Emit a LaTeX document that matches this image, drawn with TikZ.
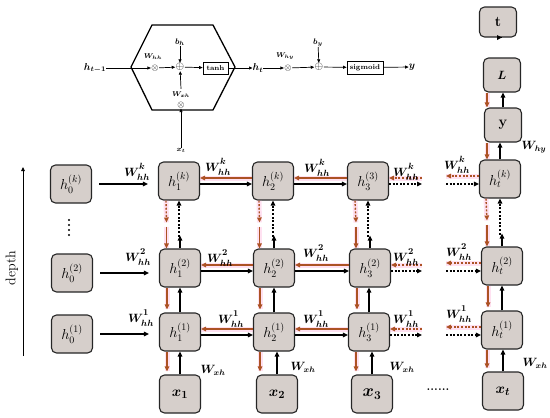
\documentclass[tikz,border=0pt]{standalone}
\usepackage{bm}
\usetikzlibrary{arrows.meta,calc}
\definecolor{boxfill}{RGB}{214,207,203}
\definecolor{rbr}{RGB}{172,82,36}
\definecolor{pinkg}{RGB}{255,170,215}
\newcommand{\Wlab}[1]{$\bm{W}^{\raisebox{2.5pt}{$\scriptstyle\bm{#1}$}}_{\raisebox{-1.5pt}{$\scriptstyle\bm{hh}$}}$}
\begin{document}
\begin{tikzpicture}[x=1pt,y=-1pt,
  box/.style={draw=black!85,line width=1.1pt,fill=boxfill,rounded corners=5pt,minimum width=41pt,minimum height=38pt,inner sep=0pt,font=\fontsize{14}{16}\selectfont},
  sbox/.style={box,minimum width=37pt,minimum height=32pt},
  blk/.style={-{Triangle[length=5pt,width=4.5pt]},line width=1.4pt,black},
  rd/.style={-{Triangle[length=5pt,width=4.5pt]},line width=1.4pt,rbr,preaction={draw,-,line width=5pt,pinkg,opacity=.35}},
  dts/.style={dash pattern=on 2pt off 1.6pt},
  wl/.style={font=\fontsize{13}{15}\selectfont,inner sep=0pt},
  wx/.style={font=\fontsize{12}{14}\selectfont,inner sep=0pt},
  thin/.style={-{Triangle[length=3.5pt,width=3pt]},line width=0.7pt,black},
  tl/.style={font=\fontsize{10}{12}\selectfont,inner sep=0pt},
  ts/.style={font=\fontsize{7}{8}\selectfont,inner sep=0pt},
  opn/.style={font=\fontsize{9}{10}\selectfont,inner sep=0.3pt},
  fbox/.style={draw,line width=0.8pt,inner sep=1.5pt,font=\fontsize{7}{8}\selectfont\bfseries}]
\useasboundingbox (0,0) rectangle (550,418);

% ---------------- top cell diagram ----------------
\draw[line width=1.3pt] (152,25) -- (213,25) -- (235,67) -- (213,110) -- (152,110) -- (131,67) -- cycle;
\node[tl] (htm1) at (95,68) {$\bm{h_{t-1}}$};
\node[opn] (m1) at (155,68) {$\otimes$};
\node[opn,font=\fontsize{11}{12}\selectfont] (p1) at (180,67) {$\oplus$};
\node[ts] (whh) at (153,57) {$\bm{W_{hh}}$};
\node[ts,font=\fontsize{8}{9}\selectfont] (bh) at (180,42) {$\bm{b_h}$};
\node[ts] (wxh) at (181,95) {$\bm{W_{xh}}$};
\node[opn] (m2) at (181,105) {$\otimes$};
\node[ts] (xtl) at (181,150) {$\bm{x_t}$};
\node[fbox,minimum width=25pt,minimum height=12pt] (tanh) at (215.5,68) {tanh};
\node[tl] (htl) at (258,68) {$\bm{h_t}$};
\node[opn] (m3) at (288,68) {$\otimes$};
\node[ts] (why) at (285,56) {$\bm{W_{hy}}$};
\node[opn,font=\fontsize{11}{12}\selectfont] (p2) at (319,67) {$\oplus$};
\node[ts,font=\fontsize{8}{9}\selectfont] (by) at (318,43) {$\bm{b_y}$};
\node[fbox,minimum width=36pt,minimum height=13pt] (sig) at (365,67.5) {sigmoid};
\node[tl] (yout) at (412,67) {$\bm{y}$};
\draw[thin] (htm1) -- (m1);
\draw[thin] (m1) -- (p1);
\draw[thin] (bh) -- (p1);
\draw[thin] ([yshift=3pt]wxh.north) -- (p1);
\draw[thin] (xtl) -- (m2);
\draw[thin] (p1) -- (tanh);
\draw[thin] (tanh) -- (htl);
\draw[thin] (htl) -- (m3);
\draw[thin] (m3) -- (p2);
\draw[thin] (by) -- (p2);
\draw[thin] (p2) -- (sig);
\draw[thin] (sig) -- (yout);

% ---------------- depth ----------------
\coordinate (d0) at (23,356);
\coordinate (d1) at (23,167);
\draw[-{Triangle[length=4pt,width=3.5pt]},line width=0.9pt] (d0) -- (d1);
\node[rotate=90,font=\fontsize{14}{16}\selectfont] (depth) at (12,268) {depth};

% ---------------- nodes ----------------
\node[box] (h0k) at (71,184) {$h_0^{(k)}$};
\node[box] (h02) at (72,273) {$h_0^{(2)}$};
\node[box] (h01) at (72,334) {$h_0^{(1)}$};
\foreach \yy in {220,225,230,235} \fill (69,\yy) circle (1.1pt);

\node[box] (h1k) at (179,181) {$h_1^{(k)}$};
\node[box] (h2k) at (273,181) {$h_2^{(k)}$};
\node[box] (h3k) at (368,181) {$h_3^{(3)}$};
\node[box] (htk) at (500,179) {$h_t^{(k)}$};

\node[box] (h12) at (180,268) {$h_1^{(2)}$};
\node[box] (h22) at (274,268) {$h_2^{(2)}$};
\node[box] (h32) at (370,268) {$h_3^{(2)}$};
\node[box] (ht2) at (502,266) {$h_t^{(2)}$};

\node[box] (h11) at (180,332) {$h_1^{(1)}$};
\node[box] (h21) at (274,332) {$h_2^{(1)}$};
\node[box] (h31) at (369,332) {$h_3^{(1)}$};
\node[box] (ht1) at (502,330) {$h_t^{(1)}$};

\node[box,font=\fontsize{15}{17}\selectfont] (x1) at (180,394) {$\bm{x_1}$};
\node[box,font=\fontsize{15}{17}\selectfont] (x2) at (277,394) {$\bm{x_2}$};
\node[box,font=\fontsize{17}{19}\selectfont] (x3) at (372,394) {$\bm{x_3}$};
\node[box,font=\fontsize{15}{17}\selectfont] (xt) at (503,391) {$\bm{x_t}$};
\node[font=\fontsize{12}{14}\selectfont\bfseries] (hd) at (438,390) {......};

\node[sbox,minimum height=30pt,font=\fontsize{14}{16}\selectfont] (t) at (498,22) {$\mathbf{t}$};
\node[sbox,minimum height=34pt,font=\fontsize{13}{16}\selectfont] (L) at (502,75) {$\bm{L}$};
\node[sbox,minimum height=34pt,font=\fontsize{15}{16}\selectfont] (yb) at (503,125) {$\mathbf{y}$};

% ---------------- h0 arrows ----------------
\foreach \a/\b in {h0k/h1k,h02/h12,h01/h11}
  \draw[blk,shorten <=7pt,shorten >=10pt] (\a.east) -- (\a.east -| \b.west);

% ---------------- horizontal pairs ----------------
\foreach \a/\b in {h1k/h2k,h2k/h3k,h12/h22,h22/h32,h11/h21,h21/h31}{
  \draw[rd] ([yshift=3pt]\b.west) -- ([yshift=3pt]\b.west -| \a.east);
  \draw[blk] ([yshift=-3pt]\a.east) -- ([yshift=-3pt]\a.east -| \b.west);
}
% dotted ends right of h3 and left of ht
\foreach \a/\b/\yy in {h3k/htk/181,h32/ht2/268,h31/ht1/332}{
  \coordinate (e\a) at (422,\yy);
  \coordinate (f\b) at (446,\yy);
  \draw[rd,dts] ([yshift=3pt]e\a) -- ([yshift=3pt]e\a -| \a.east);
  \draw[blk,dts] ([yshift=-3pt]\a.east) -- ([yshift=-3pt]\a.east -| e\a);
  \draw[rd,dts] ([yshift=3pt]\b.west) -- ([yshift=3pt]\b.west -| f\b);
  \draw[blk,dts] ([yshift=-3pt]f\b) -- ([yshift=-3pt]f\b -| \b.west);
}

% ---------------- vertical: row k to row 2 ----------------
\foreach \a/\b/\o in {h1k/h12/13,h2k/h22/14,h3k/h32/13,htk/ht2/14}{
  \coordinate (m\a) at ($(\a.south)!0.5!(\b.north)$);
  \draw[rd,dts] ([xshift=-\o pt]\a.south) -- ([xshift=-\o pt,yshift=2pt]m\a);
  \draw[rd] ([xshift=-\o pt,yshift=-2pt]m\a) -- ([xshift=-\o pt]m\a |- \b.north);
  \draw[blk] (\b.north) -- ([yshift=-11pt]m\a -| \b.north);
  \draw[blk,dts] ([yshift=-12pt]m\a -| \a.south) -- (\a.south);
}
% ---------------- vertical: row 2 to row 1, row 1 to x ----------------
\foreach \a/\b/\o in {h12/h11/13,h22/h21/14,h32/h31/13,ht2/ht1/14,h11/x1/13,h21/x2/14,h31/x3/13,ht1/xt/15}{
  \draw[rd] ([xshift=-\o pt]\a.south) -- ([xshift=-\o pt,yshift=3pt]\a.south |- \b.north);
  \draw[blk] (\b.north) -- (\b.north |- \a.south);
}
% ---------------- top right column ----------------
\draw[blk] (t) -- (t.south -| L.north);
\draw[blk] (yb.north) -- (yb.north |- L.south);
\draw[rd] ([xshift=-15pt]L.south) -- ([xshift=-15pt]L.south |- yb.north);
\draw[blk] (htk.north) -- (htk.north |- yb.south);
\draw[rd] ([xshift=-16pt]yb.south) -- ([xshift=-16pt]yb.south |- htk.north);

% ---------------- labels ----------------
\node[wl] (lk0) at (137,172) {\Wlab{k}};
\node[wl] (lk1) at (218,167) {\Wlab{k}};
\node[wl] (lk2) at (317,168) {\Wlab{k}};
\node[wl] (lk3) at (406,172) {\Wlab{k}};
\node[wl] (lk4) at (457,165) {\Wlab{k}};
\node[wl] (l20) at (138,257) {\Wlab{2}};
\node[wl] (l21) at (220,258) {\Wlab{2}};
\node[wl] (l22) at (316,253) {\Wlab{2}};
\node[wl] (l23) at (406,257) {\Wlab{2}};
\node[wl] (l24) at (459,252) {\Wlab{2}};
\node[wl] (l10) at (141,318) {\Wlab{1}};
\node[wl] (l11) at (231,319) {\Wlab{1}};
\node[wl] (l12) at (316,319) {\Wlab{1}};
\node[wl] (l13) at (406,319) {\Wlab{1}};
\node[wl] (l14) at (459,314) {\Wlab{1}};
\node[wx] (lx1) at (213,370) {$\bm{W_{xh}}$};
\node[wx] (lx2) at (303,367) {$\bm{W_{xh}}$};
\node[wx] (lx3) at (402,367) {$\bm{W_{xh}}$};
\node[wx] (lx4) at (535,363) {$\bm{W_{xh}}$};
\node[wx] (lhy) at (534,147) {$\bm{W_{hy}}$};
\end{tikzpicture}
\end{document}
